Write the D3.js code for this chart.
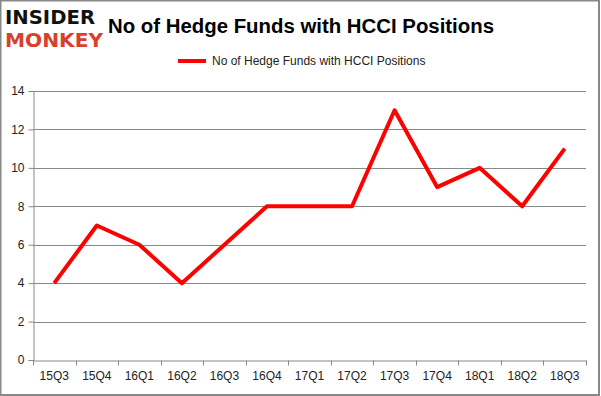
<!DOCTYPE html>
<html>
<head>
<meta charset="utf-8">
<script src="https://d3js.org/d3.v7.min.js"></script>
<style>
  body { margin: 0; background: #fff; }
  svg { display: block; }
  .tick text { font-family: "Liberation Sans", Arial, sans-serif; font-size: 12px; fill: #222; }
</style>
</head>
<body>
<script>
// data
var quarters = ["15Q3", "15Q4", "16Q1", "16Q2", "16Q3", "16Q4", "17Q1", "17Q2", "17Q3", "17Q4", "18Q1", "18Q2", "18Q3"];
var funds = [4, 7, 6, 4, 6, 8, 8, 8, 13, 9, 10, 8, 11];
var yTicks = [0, 2, 4, 6, 8, 10, 12, 14];
var seriesName = "No of Hedge Funds with HCCI Positions";

var W = 601, H = 396;
var margin = {top: 91, right: 15, bottom: 36, left: 33};

var svg = d3.select("body").append("svg")
    .attr("width", W)
    .attr("height", H);

// outer frame
svg.append("rect")
    .attr("x", 0.5).attr("y", 0.5)
    .attr("width", W - 2.5).attr("height", H - 1.5)
    .attr("fill", "none")
    .attr("stroke", "#888")
    .attr("stroke-width", 2);

var x = d3.scaleBand()
    .domain(quarters)
    .range([margin.left, W - margin.right]);

var y = d3.scaleLinear()
    .domain([0, 14])
    .range([H - margin.bottom, margin.top]);

// gridlines
svg.append("g")
    .selectAll("line")
    .data(yTicks.slice(1))
    .enter().append("line")
    .attr("x1", margin.left).attr("x2", W - margin.right)
    .attr("y1", function(d) { return Math.round(y(d)) + 0.5; })
    .attr("y2", function(d) { return Math.round(y(d)) + 0.5; })
    .attr("stroke", "#888")
    .attr("stroke-width", 1);

// y axis
var yAxis = svg.append("g")
    .attr("transform", "translate(" + (margin.left + 0.5) + ",0)")
    .call(d3.axisLeft(y).tickValues(yTicks).tickSize(5).tickPadding(4));
yAxis.selectAll("path, line").attr("stroke", "#888");

// x axis
var xAxis = svg.append("g")
    .attr("transform", "translate(0," + (Math.round(y(0)) + 0.5) + ")")
    .call(d3.axisBottom(x).tickSize(0).tickPadding(11));
xAxis.select("path").attr("stroke", "#888");
// ticks on band edges
xAxis.selectAll("line.edge")
    .data(quarters.concat(["end"]))
    .enter().append("line")
    .attr("class", "edge")
    .attr("x1", function(d, i) { return Math.round(margin.left + i * x.step()) + 0.5; })
    .attr("x2", function(d, i) { return Math.round(margin.left + i * x.step()) + 0.5; })
    .attr("y1", 0).attr("y2", 5)
    .attr("stroke", "#888");

// the series line
var line = d3.line()
    .x(function(d, i) { return x(quarters[i]) + x.bandwidth() / 2; })
    .y(function(d) { return y(d); });

svg.append("path")
    .datum(funds)
    .attr("d", line)
    .attr("fill", "none")
    .attr("stroke", "#ff0000")
    .attr("stroke-width", 4)
    .attr("stroke-linejoin", "round");

// title
svg.append("text")
    .attr("x", 301).attr("y", 33)
    .attr("text-anchor", "middle")
    .attr("textLength", 386).attr("lengthAdjust", "spacingAndGlyphs")
    .style("font-family", "'Liberation Sans', Arial, sans-serif")
    .style("font-weight", "bold")
    .style("font-size", "20px")
    .attr("fill", "#000")
    .text(seriesName);

// legend
svg.append("line")
    .attr("x1", 178).attr("x2", 206)
    .attr("y1", 61).attr("y2", 61)
    .attr("stroke", "#ff0000")
    .attr("stroke-width", 4);
svg.append("text")
    .attr("x", 212).attr("y", 65)
    .style("font-family", "'Liberation Sans', Arial, sans-serif")
    .style("font-size", "12px")
    .attr("fill", "#222")
    .text(seriesName);

// logo
svg.append("text")
    .attr("x", 5).attr("y", 24)
    .attr("textLength", 90).attr("lengthAdjust", "spacingAndGlyphs")
    .style("font-family", "'DejaVu Sans', sans-serif")
    .style("font-weight", "bold")
    .style("font-size", "19.5px")
    .attr("fill", "#111")
    .text("INSIDER");
svg.append("text")
    .attr("x", 5).attr("y", 47)
    .attr("textLength", 98).attr("lengthAdjust", "spacingAndGlyphs")
    .style("font-family", "'DejaVu Sans', sans-serif")
    .style("font-weight", "bold")
    .style("font-size", "19.5px")
    .attr("fill", "#d8402b")
    .text("MONKEY");
</script>
</body>
</html>
